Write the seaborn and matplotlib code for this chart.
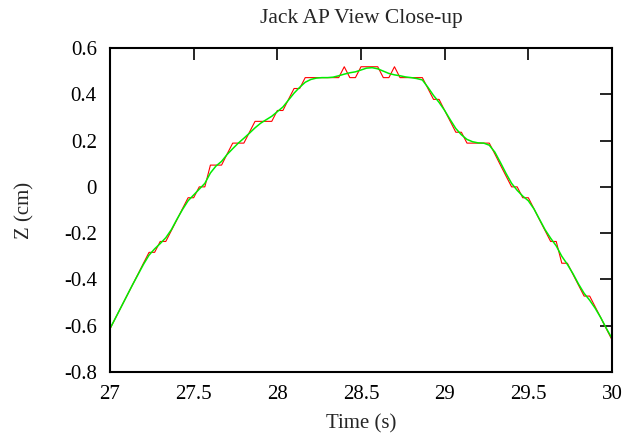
import numpy as np
import pandas as pd
import matplotlib
matplotlib.use("Agg")
import matplotlib.pyplot as plt
import seaborn as sns

# Sample times (30 Hz) from 27.0 s to 30.0 s
frame_rate = 30.0
start_time = 27.0

# Raw tracked Z position (cm), quantized by the tracker
raw_z = [
    -0.614, -0.566, -0.519, -0.472, -0.425, -0.378, -0.330, -0.283, -0.283, -0.236,
    -0.236, -0.189, -0.142, -0.094, -0.047, -0.047, 0.000, 0.000, 0.094, 0.094,
    0.094, 0.142, 0.189, 0.189, 0.189, 0.236, 0.283, 0.283, 0.283, 0.283,
    0.330, 0.330, 0.378, 0.425, 0.425, 0.472, 0.472, 0.472, 0.472, 0.472,
    0.472, 0.472, 0.519, 0.472, 0.472, 0.519, 0.519, 0.519, 0.519, 0.472,
    0.472, 0.519, 0.472, 0.472, 0.472, 0.472, 0.472, 0.425, 0.378, 0.378,
    0.330, 0.283, 0.236, 0.236, 0.189, 0.189, 0.189, 0.189, 0.189, 0.142,
    0.094, 0.047, 0.000, 0.000, -0.047, -0.047, -0.094, -0.142, -0.189, -0.236,
    -0.236, -0.330, -0.330, -0.378, -0.425, -0.472, -0.472, -0.519, -0.566, -0.614,
    -0.661,
]

# Smoothed Z position (cm)
smooth_z = [
    -0.612, -0.566, -0.519, -0.472, -0.425, -0.380, -0.335, -0.295, -0.268, -0.245,
    -0.220, -0.185, -0.140, -0.098, -0.060, -0.035, -0.010, 0.015, 0.060, 0.090,
    0.110, 0.140, 0.165, 0.189, 0.210, 0.232, 0.255, 0.275, 0.290, 0.305,
    0.325, 0.345, 0.375, 0.405, 0.430, 0.452, 0.464, 0.470, 0.472, 0.472,
    0.474, 0.480, 0.487, 0.493, 0.497, 0.505, 0.513, 0.515, 0.510, 0.500,
    0.490, 0.484, 0.480, 0.475, 0.472, 0.468, 0.462, 0.430, 0.395, 0.365,
    0.330, 0.290, 0.252, 0.225, 0.205, 0.195, 0.190, 0.189, 0.180, 0.150,
    0.105, 0.058, 0.015, -0.015, -0.040, -0.060, -0.095, -0.140, -0.185, -0.222,
    -0.255, -0.300, -0.335, -0.375, -0.420, -0.460, -0.490, -0.525, -0.566, -0.612,
    -0.655,
]

x_ticks = [27, 27.5, 28, 28.5, 29, 29.5, 30]
x_tick_labels = ["27", "27.5", "28", "28.5", "29", "29.5", "30"]
y_ticks = [-0.8, -0.6, -0.4, -0.2, 0, 0.2, 0.4, 0.6]
y_tick_labels = ["-0.8", "-0.6", "-0.4", "-0.2", "0", "0.2", "0.4", "0.6"]

time_s = start_time + np.arange(len(raw_z)) / frame_rate
df = pd.DataFrame({"time": time_s, "raw": raw_z, "smooth": smooth_z})

sns.set_style("white")
plt.rcParams["font.family"] = ["Liberation Serif", "DejaVu Serif"]

fig = plt.figure(figsize=(6.25, 4.4), dpi=100)
ax = fig.add_axes([110 / 625, 1 - 372 / 440, (612 - 110) / 625, (372 - 48) / 440])

sns.lineplot(data=df, x="time", y="raw", ax=ax, color="#ff0000", linewidth=0.8)
sns.lineplot(data=df, x="time", y="smooth", ax=ax, color="#00ee00", linewidth=1.1)

ax.set_xlim(27, 30)
ax.set_ylim(-0.8, 0.6)
ax.set_xticks(x_ticks)
ax.set_xticklabels(x_tick_labels)
ax.set_yticks(y_ticks)
ax.set_yticklabels(y_tick_labels)

ax.tick_params(direction="in", length=8.5, width=1.2, top=True, right=True,
               labelsize=15, colors="black")
ax.tick_params(axis="y", pad=9.5)
ax.tick_params(axis="x", pad=9.0)
for spine in ax.spines.values():
    spine.set_visible(True)
    spine.set_color("black")
    spine.set_linewidth(1.5)

ax.set_xlabel("Time (s)", fontsize=15)
ax.set_ylabel("Z (cm)", fontsize=15)
ax.xaxis.set_label_coords(0.5, (372 - 424) / 324)
ax.xaxis.label.set_va("center")
ax.yaxis.set_label_coords((25 - 110) / 502, 0.5)
ax.yaxis.label.set_va("center")
ax.set_title("Jack AP View Close-up", fontsize=15.5, pad=18)

fig.savefig("out.png", dpi=100)
